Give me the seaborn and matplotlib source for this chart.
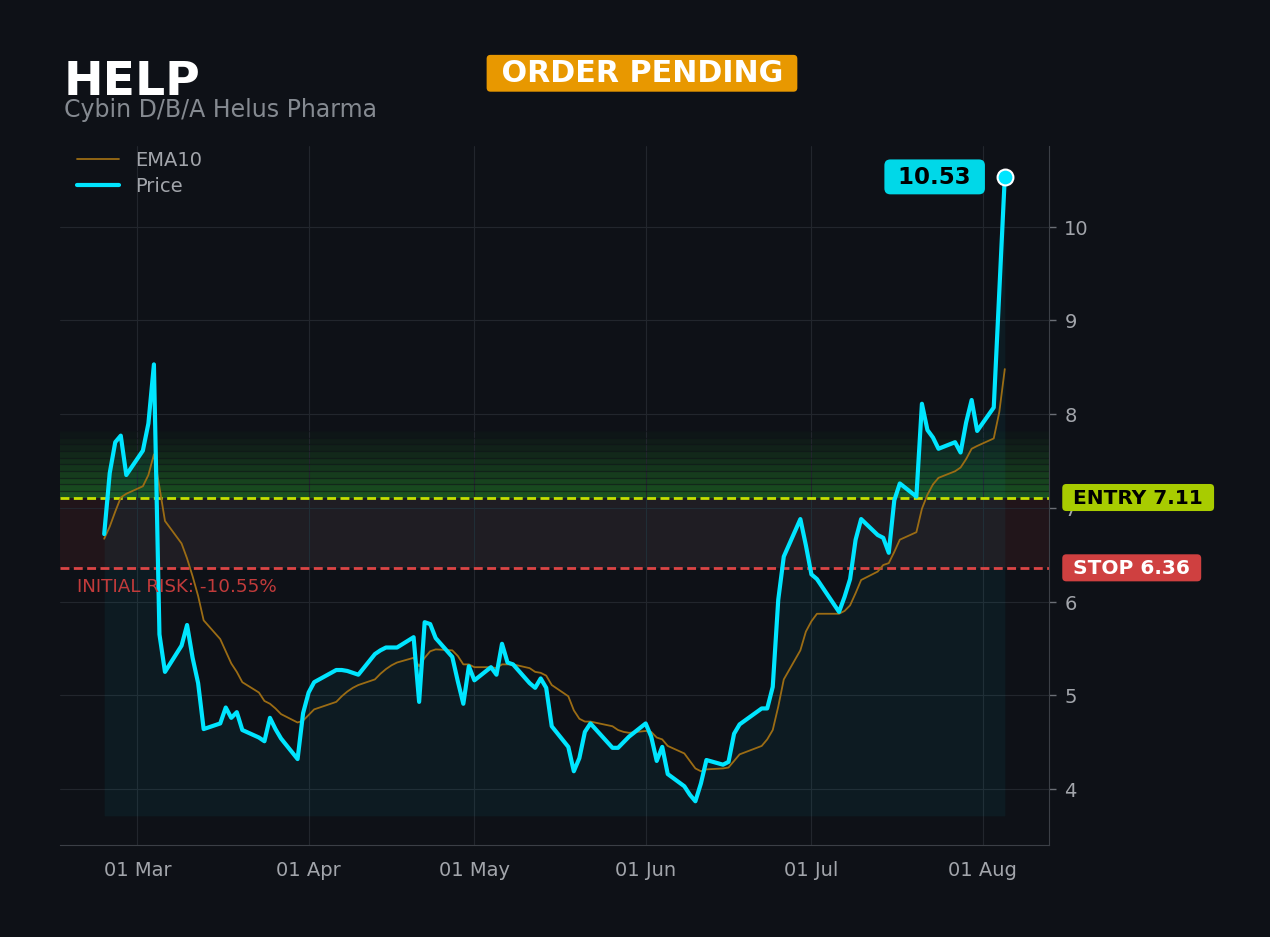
import numpy as np
import pandas as pd
import matplotlib
matplotlib.use("Agg")
import matplotlib.pyplot as plt
import matplotlib.dates as mdates
import matplotlib.transforms as mtransforms
import seaborn as sns

# --- data ---
ticker = "HELP"
company = "Cybin D/B/A Helus Pharma"
status = "ORDER PENDING"
entry = 7.11
stop = 6.36

# trading days, US market holidays skipped
holidays = ["2026-04-03", "2026-05-25", "2026-06-19", "2026-07-03"]
dates = pd.bdate_range("2026-02-23", "2026-08-05", freq="C", holidays=holidays)

price = [
    # Feb
    6.72, 7.37, 7.70, 7.77, 7.35,
    # Mar
    7.61, 7.90, 8.53, 5.65, 5.25,
    5.53, 5.75, 5.40, 5.13, 4.64,
    4.70, 4.87, 4.76, 4.82, 4.63,
    4.55, 4.51, 4.76, 4.64, 4.54,
    4.32, 4.81,
    # Apr
    5.03, 5.14, 5.27, 5.27, 5.26, 5.24, 5.22,
    5.44, 5.48, 5.51, 5.51, 5.51,
    5.62, 4.93, 5.78, 5.76, 5.61,
    5.41, 5.15, 4.91, 5.31,
    # May
    5.16, 5.30, 5.22, 5.55, 5.35, 5.33,
    5.13, 5.08, 5.18, 5.08, 4.67,
    4.45, 4.19, 4.33, 4.61, 4.70,
    4.44, 4.44, 4.50, 4.56,
    # Jun
    4.70, 4.56, 4.30, 4.45, 4.16,
    4.03, 3.94, 3.87, 4.06, 4.31,
    4.26, 4.29, 4.59, 4.69,
    4.86, 4.86, 5.09, 6.02, 6.48,
    6.88, 6.60,
    # Jul
    6.29, 6.24,
    5.89, 6.05, 6.24, 6.66, 6.88,
    6.71, 6.68, 6.52, 7.08, 7.26,
    7.12, 8.11, 7.83, 7.75, 7.63,
    7.70, 7.59, 7.91, 8.15, 7.82,
    # Aug
    8.07, 9.30, 10.53,
]

ema10 = [
    # Feb
    6.67, 6.80, 6.96, 7.11, 7.15,
    # Mar
    7.23, 7.35, 7.57, 7.22, 6.86,
    6.62, 6.46, 6.27, 6.06, 5.80,
    5.60, 5.47, 5.34, 5.25, 5.14,
    5.03, 4.94, 4.91, 4.86, 4.80,
    4.71, 4.73,
    # Apr
    4.79, 4.85, 4.93, 4.99, 5.04, 5.08, 5.11,
    5.17, 5.23, 5.28, 5.32, 5.35,
    5.40, 5.31, 5.40, 5.47, 5.49,
    5.48, 5.42, 5.33, 5.33,
    # May
    5.30, 5.30, 5.29, 5.33, 5.33, 5.33,
    5.29, 5.25, 5.24, 5.21, 5.11,
    4.99, 4.84, 4.75, 4.72, 4.72,
    4.67, 4.63, 4.61, 4.60,
    # Jun
    4.62, 4.61, 4.55, 4.53, 4.46,
    4.38, 4.30, 4.22, 4.19, 4.21,
    4.22, 4.23, 4.30, 4.37,
    4.46, 4.53, 4.63, 4.88, 5.17,
    5.48, 5.68,
    # Jul
    5.79, 5.87,
    5.87, 5.90, 5.96, 6.09, 6.23,
    6.32, 6.39, 6.41, 6.53, 6.66,
    6.74, 6.99, 7.14, 7.25, 7.32,
    7.39, 7.43, 7.52, 7.63, 7.66,
    # Aug
    7.74, 8.02, 8.48,
]

df = pd.DataFrame({"Date": dates, "Price": price, "EMA10": ema10})

# --- style ---
BG = "#0e1117"
CYAN = "#00e5ff"
GRAY = "#a2a5ab"
sns.set_style("dark", {
    "axes.facecolor": BG,
    "figure.facecolor": BG,
    "axes.edgecolor": "#3b3f46",
    "grid.color": "#22262d",
    "axes.grid": True,
    "xtick.color": GRAY,
    "ytick.color": GRAY,
    "text.color": GRAY,
})
plt.rcParams["font.family"] = ["DejaVu Sans"]

fig = plt.figure(figsize=(12.7, 9.375), dpi=100)
ax = fig.add_axes([0.04724, 0.09819, 0.77874, 0.74600])

# green gradient above entry
step = entry * 0.01
for i in range(10):
    ax.axhspan(entry + i * step, entry + (i + 1) * step, color="#32cd32",
               alpha=0.34 * (1 - i / 10) ** 1.1, lw=0, zorder=0.5)
    ax.axhline(entry + (i + 1) * step, color=BG, lw=0.9, alpha=0.6, zorder=0.6)

# risk band
ax.axhspan(stop, entry, color="#ef4444", alpha=0.085, lw=0, zorder=0.5)
p = np.array(price)
ax.fill_between(df["Date"], np.clip(p, stop, entry), entry, color=CYAN,
                alpha=0.045, lw=0, zorder=0.7)

# area under price
base = p.min() * 0.96
ax.fill_between(df["Date"], p, base, color=CYAN, alpha=0.05, lw=0, zorder=0.7)

ax.grid(True, color="#22262d", lw=0.8)

sns.lineplot(data=df, x="Date", y="EMA10", color="#9b6c14", lw=1.3,
             label="EMA10", ax=ax, zorder=3)
sns.lineplot(data=df, x="Date", y="Price", color=CYAN, lw=3,
             label="Price", ax=ax, zorder=4)

ax.axhline(entry, color="#c6e000", lw=2, ls=(0, (3.2, 1.6)), zorder=2.5)
ax.axhline(stop, color="#dc4545", lw=2, ls=(0, (3.2, 1.6)), zorder=2.5)

# last price marker + label
last_date = df["Date"].iloc[-1]
last = price[-1]
ax.scatter([last_date], [last], s=130, color=CYAN, edgecolor="white",
           linewidth=1.5, zorder=6)
ax.annotate(f" {last:.2f} ", xy=(last_date, last), xytext=(-50.5, 0),
            textcoords="offset points", ha="center", va="center",
            fontsize=16.5, fontweight="bold", color="black", zorder=7,
            bbox=dict(boxstyle="round,pad=0.26", fc="#00d8e8", ec="none"))

# entry / stop tags on the right
trans = mtransforms.blended_transform_factory(ax.transAxes, ax.transData)
ax.text(1.0175, entry, f" ENTRY {entry:.2f} ", transform=trans, ha="left",
        va="center", fontsize=14.5, fontweight="bold", color="black",
        clip_on=False, zorder=10,
        bbox=dict(boxstyle="round,pad=0.2", fc="#a8cc00", ec="none"))
ax.text(1.0175, stop, f" STOP {stop:.2f} ", transform=trans, ha="left",
        va="center", fontsize=14.5, fontweight="bold", color="white",
        clip_on=False, zorder=10,
        bbox=dict(boxstyle="round,pad=0.2", fc="#cf4040", ec="none"))

risk = (stop - entry) / entry * 100
ax.text(0.0172, 6.11, f"INITIAL RISK: {risk:.2f}%", transform=trans,
        ha="left", va="baseline", fontsize=13.2, color="#c23b3b", zorder=5)

# axes
ax.set_xlim(dates[0] - pd.Timedelta(days=8), dates[-1] + pd.Timedelta(days=8))
ax.set_ylim(3.404, 10.864)
ax.yaxis.tick_right()
ax.set_yticks([4, 5, 6, 7, 8, 9, 10])
ax.xaxis.set_major_locator(mdates.MonthLocator())
ax.xaxis.set_major_formatter(mdates.DateFormatter("%d %b"))
ax.tick_params(axis="both", labelsize=14, length=5, width=1, color="#6b6f76",
               colors=GRAY)
ax.tick_params(axis="x", pad=6)
ax.tick_params(axis="y", pad=6)
ax.set_xlabel("")
ax.set_ylabel("")
for side in ["left", "top"]:
    ax.spines[side].set_visible(False)
for side in ["right", "bottom"]:
    ax.spines[side].set_color("#3b3f46")

leg = ax.legend(loc="upper left", bbox_to_anchor=(0.003, 1.012), frameon=False,
                fontsize=14, handlelength=2.2, labelspacing=0.35,
                borderaxespad=0.3)
for t in leg.get_texts():
    t.set_color(GRAY)

# header
fig.text(0.0504, 0.8986, ticker, fontsize=34, fontweight="bold",
         color="white", va="baseline")
fig.text(0.0504, 0.8755, company, fontsize=17, color="#858a91",
         va="baseline")
fig.text(0.5055, 0.9213, f" {status} ", fontsize=21.7, fontweight="bold",
         color="white", ha="center", va="center",
         bbox=dict(boxstyle="round,pad=0.13", fc="#e89800", ec="none"))

fig.savefig("out.png", dpi=100, facecolor=BG)
